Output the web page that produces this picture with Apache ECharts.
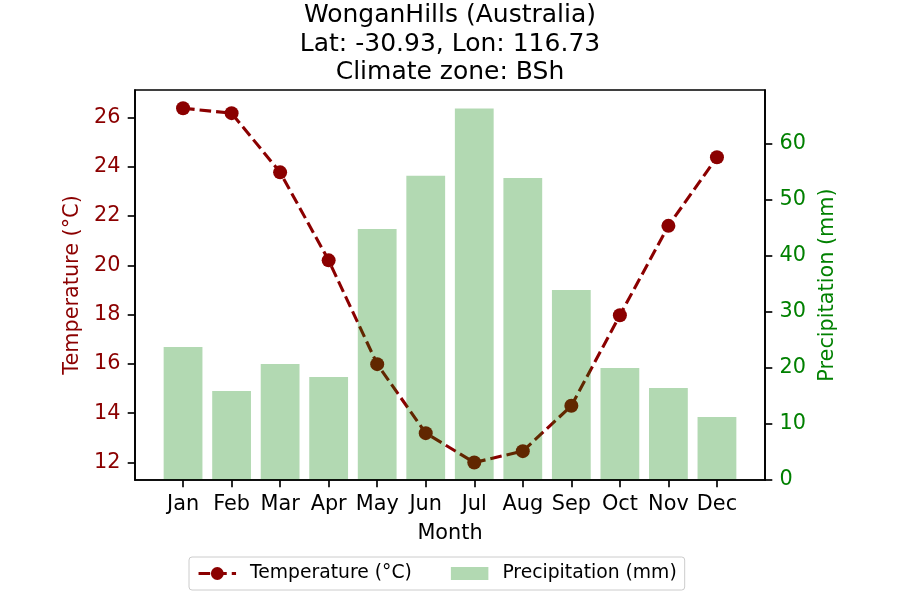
<!DOCTYPE html>
<html>
<head>
<meta charset="utf-8">
<script src="https://cdn.jsdelivr.net/npm/echarts@6/dist/echarts.min.js"></script>
<style>html,body{margin:0;padding:0;background:#fff;}#c{width:900px;height:600px;}</style>
</head>
<body>
<div id="c"></div>
<script>
var months = ['Jan','Feb','Mar','Apr','May','Jun','Jul','Aug','Sep','Oct','Nov','Dec'];
var temperature = [26.37, 26.17, 23.77, 20.2, 15.99, 13.19, 12.0, 12.46, 14.3, 17.97, 21.6, 24.38];
var precipitation = [23.75, 15.9, 20.7, 18.4, 44.8, 54.3, 66.3, 53.9, 33.9, 20.0, 16.4, 11.25];
var tempTicks = [12, 14, 16, 18, 20, 22, 24, 26];
var precTicks = [0, 10, 20, 30, 40, 50, 60];
var monthIdx = months.map(function (m, i) { return i; });

var FONT = 'DejaVu Sans';
var DARKRED = '#8b0000';
var GREEN = '#008000';

var chart = echarts.init(document.getElementById('c'), null, {renderer: 'canvas'});
chart.setOption({
  animation: false,
  backgroundColor: '#ffffff',
  textStyle: {fontFamily: FONT},
  title: {
    text: 'WonganHills (Australia)\nLat: -30.93, Lon: 116.73\nClimate zone: BSh',
    left: 'center', top: 1, padding: 0,
    textStyle: {fontFamily: FONT, fontSize: 25, fontWeight: 'normal', color: '#000', lineHeight: 28.7, align: 'center'}
  },
  legend: {
    left: 189, top: 557,
    padding: [7, 8, 7, 8],
    itemGap: 39,
    itemWidth: 37.5, itemHeight: 16,
    borderColor: '#cccccc', borderWidth: 1, borderRadius: 3,
    backgroundColor: 'rgba(255,255,255,0.8)',
    lineStyle: {width: 3.1, type: [11.6, 5]},
    textStyle: {fontFamily: FONT, fontSize: 18.75, color: '#000', padding: [1, 0, 0, 9]},
    data: [
      {name: 'Temperature (°C)'},
      {name: 'Precipitation (mm)', icon: 'path://M0,0M0,16M0,1.5h38v13h-38z'}
    ]
  },
  grid: {left: 135, right: 135, top: 90, bottom: 120, show: true, borderColor: '#000', borderWidth: 1.67, containLabel: false},
  xAxis: {
    type: 'value', min: -0.99, max: 11.99,
    name: 'Month', nameLocation: 'middle', nameGap: 43,
    nameTextStyle: {fontFamily: FONT, fontSize: 20.8, color: '#000'},
    axisLine: {show: true, onZero: false, lineStyle: {color: '#000', width: 1.67}},
    axisTick: {show: true, customValues: monthIdx, length: 7.3, lineStyle: {color: '#000', width: 1.67}},
    axisLabel: {customValues: monthIdx, margin: 14.3, fontFamily: FONT, fontSize: 20.8, color: '#000',
      formatter: function (v) { return months[Math.round(v)]; }},
    splitLine: {show: false},
    z: 10
  },
  yAxis: [{
    type: 'value', min: 11.29, max: 27.11, position: 'left',
    name: 'Temperature (°C)', nameLocation: 'middle', nameGap: 48,
    nameTextStyle: {fontFamily: FONT, fontSize: 20.8, color: DARKRED},
    axisLine: {show: true, onZero: false, lineStyle: {color: '#000', width: 1.67}},
    axisTick: {show: true, customValues: tempTicks, length: 7.3, lineStyle: {color: '#000', width: 1.67}},
    axisLabel: {customValues: tempTicks, margin: 14.6, fontFamily: FONT, fontSize: 20.8, color: DARKRED, padding: [5, 0, 0, 0]},
    splitLine: {show: false},
    z: 10
  }, {
    type: 'value', min: 0, max: 69.6, position: 'right',
    name: 'Precipitation (mm)', nameLocation: 'middle', nameGap: 42,
    nameTextStyle: {fontFamily: FONT, fontSize: 20.8, color: GREEN},
    axisLine: {show: true, onZero: false, lineStyle: {color: '#000', width: 1.67}},
    axisTick: {show: true, customValues: precTicks, length: 7.3, lineStyle: {color: '#000', width: 1.67}},
    axisLabel: {customValues: precTicks, margin: 14.6, fontFamily: FONT, fontSize: 20.8, color: GREEN, padding: [5, 0, 0, 0]},
    splitLine: {show: false},
    z: 10
  }],
  series: [{
    name: 'Temperature (°C)',
    type: 'line',
    yAxisIndex: 0,
    data: temperature.map(function (v, i) { return [i, v]; }),
    symbol: 'circle', symbolSize: 14,
    itemStyle: {color: DARKRED},
    lineStyle: {color: DARKRED, width: 3.1, type: [11.6, 5]},
    z: 2
  }, {
    name: 'Precipitation (mm)',
    type: 'bar',
    yAxisIndex: 1,
    data: precipitation.map(function (v, i) { return [i, v]; }),
    barWidth: 38.8,
    itemStyle: {color: 'rgba(0,128,0,0.3)'},
    z: 3
  }]
});
</script>
</body>
</html>
